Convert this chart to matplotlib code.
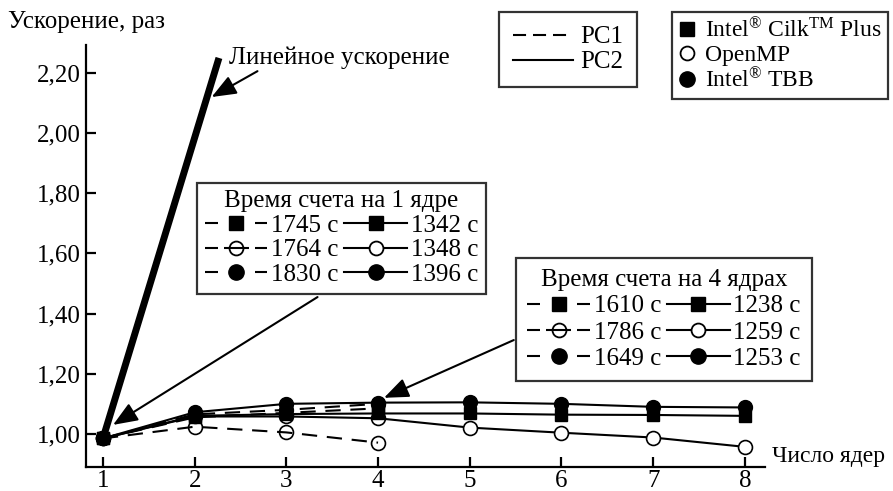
import matplotlib
matplotlib.use("Agg")
import matplotlib.pyplot as plt
from matplotlib.lines import Line2D

plt.rcParams["font.family"] = ["Liberation Serif", "DejaVu Serif"]
plt.rcParams["mathtext.fontset"] = "custom"
plt.rcParams["mathtext.rm"] = "Liberation Serif"
plt.rcParams["mathtext.it"] = "Liberation Serif"
plt.rcParams["lines.scale_dashes"] = False

# ---- data ----
cores_pc1 = [1, 2, 3, 4]
cores_pc2 = [1, 2, 3, 4, 5, 6, 7, 8]

pc1_cilk = [0.985, 1.055, 1.070, 1.085]
pc1_omp = [0.985, 1.024, 1.005, 0.971]
pc1_tbb = [0.985, 1.065, 1.080, 1.100]

pc2_cilk = [0.985, 1.060, 1.066, 1.068, 1.068, 1.064, 1.063, 1.060]
pc2_omp = [0.985, 1.058, 1.058, 1.052, 1.021, 1.004, 0.988, 0.957]
pc2_tbb = [0.985, 1.072, 1.100, 1.104, 1.105, 1.100, 1.090, 1.088]

linear_x = [1, 2.265]
linear_y = [0.985, 2.25]

x_ticks = [1, 2, 3, 4, 5, 6, 7, 8]
y_ticks = [1.00, 1.20, 1.40, 1.60, 1.80, 2.00, 2.20]
y_tick_labels = ["1,00", "1,20", "1,40", "1,60", "1,80", "2,00", "2,20"]

times_1core_pc1 = ["1745 с", "1764 с", "1830 с"]
times_1core_pc2 = ["1342 с", "1348 с", "1396 с"]
times_4core_pc1 = ["1610 с", "1786 с", "1649 с"]
times_4core_pc2 = ["1238 с", "1259 с", "1253 с"]

W, H = 893, 491
fig = plt.figure(figsize=(W / 100, H / 100), dpi=100)
ax = fig.add_axes([86 / W, 24 / H, (765 - 86) / W, (467 - 45) / H])

FS = 18
LW = 1.5
MS = 10
DASH = (11, 7)

# linear speedup
ax.plot(linear_x, linear_y, color="black", lw=5, solid_capstyle="butt", zorder=2)

# PC1 (dashed)
ax.plot(cores_pc1, pc1_omp, color="black", lw=LW, ls=(0, DASH), marker="o",
        ms=MS, mfc="none", mec="black", mew=1.2, zorder=3)
ax.plot(cores_pc1, pc1_cilk, color="black", lw=LW, ls=(0, DASH), marker="s",
        ms=MS - 1, mfc="black", mec="black", zorder=4)
ax.plot(cores_pc1, pc1_tbb, color="black", lw=LW, ls=(0, DASH), marker="o",
        ms=MS, mfc="black", mec="black", zorder=5)

# PC2 (solid)
ax.plot(cores_pc2, pc2_omp, color="black", lw=LW, marker="o", ms=MS,
        mfc="white", mec="black", mew=1.2, zorder=3)
ax.plot(cores_pc2, pc2_cilk, color="black", lw=LW, marker="s", ms=MS - 1,
        mfc="black", mec="black", zorder=4)
ax.plot(cores_pc2, pc2_tbb, color="black", lw=LW, marker="o", ms=MS,
        mfc="black", mec="black", zorder=5)

# axes styling
ax.set_xlim(0.815, 8.22)
ax.set_ylim(0.890, 2.293)
ax.spines["top"].set_visible(False)
ax.spines["right"].set_visible(False)
ax.spines["left"].set_linewidth(1.6)
ax.spines["bottom"].set_linewidth(1.6)
ax.set_xticks(x_ticks)
ax.set_xticklabels([str(v) for v in x_ticks])
ax.set_yticks(y_ticks)
ax.set_yticklabels(y_tick_labels)
ax.tick_params(axis="both", direction="in", length=7, width=1.6, labelsize=FS)
ax.tick_params(axis="x", pad=2)
ax.tick_params(axis="y", pad=4)

fig.text(8 / W, 1 - 22 / H, "Ускорение, раз", fontsize=FS, va="center", ha="left")
ax.text(1.01, 0.024, "Число ядер", transform=ax.transAxes, fontsize=17,
        va="center", ha="left", clip_on=False)

# annotations
arrow = dict(arrowstyle="-|>,head_length=0.5,head_width=0.2", color="black",
             lw=1.5, mutation_scale=30, shrinkA=0, shrinkB=0)
ax.annotate("", xy=(2.185, 2.12), xytext=(2.685, 2.206), arrowprops=arrow)
ax.text(2.37, 2.25, "Линейное ускорение", fontsize=FS, va="center", ha="left")
ax.annotate("", xy=(1.11, 1.03), xytext=(3.34, 1.455), arrowprops=arrow)
ax.annotate("", xy=(4.065, 1.12), xytext=(5.48, 1.312), arrowprops=arrow)

# ---- legends ----
def frame(leg):
    f = leg.get_frame()
    f.set_edgecolor("black")
    f.set_linewidth(1.6)
    f.set_boxstyle("square", pad=0)
    return leg

# line style legend
pc_handles = [
    Line2D([], [], color="black", lw=LW, ls=(0, (9.4, 5.0))),
    Line2D([], [], color="black", lw=LW),
]
leg_pc = fig.legend(pc_handles, ["PC1", "PC2"], loc="upper left",
                    bbox_to_anchor=(499 / W, 1 - 12 / H), fontsize=FS,
                    handlelength=2.4, handletextpad=0.3, labelspacing=0.1,
                    borderpad=0.55, borderaxespad=0, frameon=True,
                    fancybox=False)
frame(leg_pc)

# implementation legend
impl_handles = [
    Line2D([], [], ls="none", marker="s", ms=MS, mfc="black", mec="black"),
    Line2D([], [], ls="none", marker="o", ms=MS, mfc="white", mec="black", mew=1.3),
    Line2D([], [], ls="none", marker="o", ms=MS + 1, mfc="black", mec="black"),
]
impl_labels = [r"Intel$^{®}$ Cilk$^{\mathrm{TM}}$ Plus", "OpenMP",
               r"Intel$^{®}$ TBB"]
leg_impl = fig.legend(impl_handles, impl_labels, loc="upper left",
                      bbox_to_anchor=(672 / W, 1 - 12 / H), fontsize=17,
                      handlelength=0.75, handletextpad=0.4, labelspacing=0.1,
                      borderpad=0.25, borderaxespad=0, frameon=True,
                      fancybox=False)
frame(leg_impl)


def time_handles():
    px = 0.72
    h = [
        Line2D([], [], color="black", lw=LW, ls=(0, (13 * px, 37 * px)),
               marker="s", ms=MS, mfc="black", mec="black"),
        Line2D([], [], color="black", lw=LW,
               ls=(0, (13 * px, 6 * px, 25 * px, 6 * px)),
               marker="o", ms=MS, mfc="none", mec="black", mew=1.3),
        Line2D([], [], color="black", lw=LW, ls=(0, (13 * px, 37 * px)),
               marker="o", ms=MS + 1, mfc="black", mec="black"),
        Line2D([], [], color="black", lw=LW, marker="s", ms=MS,
               mfc="black", mec="black"),
        Line2D([], [], color="black", lw=LW, marker="o", ms=MS,
               mfc="white", mec="black", mew=1.3),
        Line2D([], [], color="black", lw=LW, marker="o", ms=MS + 1,
               mfc="black", mec="black"),
    ]
    return h


common = dict(ncol=2, loc="upper left", fontsize=FS, title_fontsize=FS,
              handlelength=2.5, handletextpad=0.15,
              columnspacing=0.25, borderaxespad=0,
              frameon=True, fancybox=False)

leg_1 = fig.legend(time_handles(), times_1core_pc1 + times_1core_pc2,
                   bbox_to_anchor=(197 / W, 1 - 183 / H),
                   labelspacing=0.08, borderpad=0.3,
                   title="Время счета на 1 ядре", **common)
frame(leg_1)

leg_4 = fig.legend(time_handles(), times_4core_pc1 + times_4core_pc2,
                   bbox_to_anchor=(516 / W, 1 - 258 / H),
                   labelspacing=0.15, borderpad=0.45,
                   title="Время счета на 4 ядрах", **common)
frame(leg_4)

fig.savefig("out.png", dpi=100)
